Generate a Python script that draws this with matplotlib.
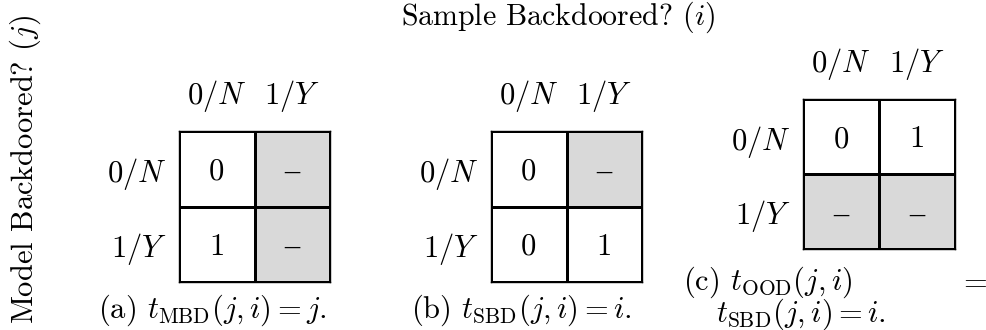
import numpy as np
import matplotlib
matplotlib.use('Agg')
import matplotlib.pyplot as plt
from matplotlib.colors import ListedColormap

plt.rcParams['font.family'] = ['cmr10', 'DejaVu Serif']
plt.rcParams['mathtext.fontset'] = 'cm'
plt.rcParams['axes.unicode_minus'] = False

# cell contents, rows = model backdoored (j), cols = sample backdoored (i)
levels = ['$0/N$', '$1/Y$']
t_mbd = [['0', '–'], ['1', '–']]
t_sbd = [['0', '–'], ['0', '1']]
t_ood = [['0', '1'], ['–', '–']]

title = 'Sample Backdoored? $(i)$'
ylabel = 'Model Backdoored? $(j)$'
cap_a = '(a) $t_{\\mathrm{MBD}}(j,i) = j$.'
cap_b = '(b) $t_{\\mathrm{SBD}}(j,i) = i$.'
cap_c1 = '(c) $t_{\\mathrm{OOD}}(j,i)$'
cap_c2 = '$t_{\\mathrm{SBD}}(j,i) = i$.'

FS = 22
W, H = 986, 330
GREY = '#d9d9d9'


def px_axes(fig, left, top, right, bottom):
    # axes placed by pixel box
    return fig.add_axes([left / W, 1 - bottom / H, (right - left) / W, (bottom - top) / H])


def draw_table(ax, cells):
    defined = np.array([[c != '–' for c in row] for row in cells], dtype=float)
    ax.pcolormesh(defined, cmap=ListedColormap([GREY, 'white']), vmin=0, vmax=1,
                  edgecolors='black', linewidth=1.0)
    ax.set_xlim(0, 2)
    ax.set_ylim(2, 0)
    for r, row in enumerate(cells):
        for c, txt in enumerate(row):
            if txt == '–':
                # thin en dash for undefined cells
                ax.text(c + 0.5, r + 0.5, txt, ha='center', va='center_baseline',
                        fontsize=FS, family=['Liberation Serif'])
            else:
                ax.text(c + 0.5, r + 0.5, txt, ha='center', va='center_baseline', fontsize=FS)
    ax.xaxis.tick_top()
    ax.set_xticks([0.5, 1.5], levels)
    ax.set_yticks([0.5, 1.5], levels)
    ax.tick_params(axis='x', length=0, labelsize=FS, pad=12)
    ax.tick_params(axis='y', length=0, labelsize=FS, pad=9)
    for s in ax.spines.values():
        s.set_linewidth(1.0)


fig = plt.figure(figsize=(W / 100, H / 100), dpi=100)

ax_a = px_axes(fig, 179, 131, 330, 282)
draw_table(ax_a, t_mbd)
ax_b = px_axes(fig, 491, 131, 642, 282)
draw_table(ax_b, t_sbd)
ax_c = px_axes(fig, 803, 99, 955, 249)
draw_table(ax_c, t_ood)

fig.text(558 / W, 1 - 17 / H, title, ha='center', va='center', fontsize=21.5)
fig.text(25 / W, 1 - 170 / H, ylabel, ha='center', va='center', rotation=90, fontsize=FS)

fig.text(212 / W, 1 - 310 / H, cap_a, ha='center', va='center', fontsize=FS)
fig.text(521 / W, 1 - 310 / H, cap_b, ha='center', va='center', fontsize=FS)
fig.text(683 / W, 1 - 282 / H, cap_c1, ha='left', va='center', fontsize=FS)
fig.text(973 / W, 1 - 281 / H, '$=$', ha='center', va='center', fontsize=FS)
fig.text(801 / W, 1 - 314 / H, cap_c2, ha='center', va='center', fontsize=FS)

fig.savefig('out.png', dpi=100)
